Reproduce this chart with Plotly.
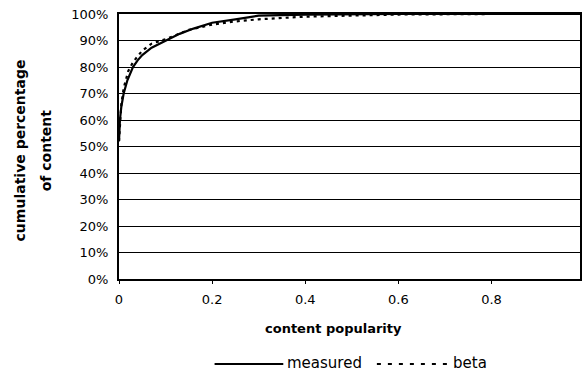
import plotly.graph_objects as go

# content popularity (x) and cumulative percentage of content (y)
measured_x = [0, 0.002, 0.005, 0.01, 0.018, 0.03, 0.04, 0.05, 0.07, 0.1, 0.13, 0.16, 0.2, 0.25, 0.3, 0.4, 0.5, 0.6, 0.8, 0.99]
measured_y = [0.52, 0.60, 0.65, 0.70, 0.75, 0.80, 0.825, 0.845, 0.873, 0.90, 0.925, 0.945, 0.967, 0.98, 0.994, 0.998, 1.0, 1.0, 1.0, 1.0]

beta_x = [0, 0.005, 0.01, 0.02, 0.03, 0.05, 0.07, 0.1, 0.15, 0.2, 0.25, 0.3, 0.4, 0.5, 0.6, 0.8, 0.99]
beta_y = [0.52, 0.66, 0.72, 0.785, 0.818, 0.862, 0.888, 0.905, 0.94, 0.96, 0.972, 0.98, 0.99, 0.995, 0.998, 1.0, 1.0]

y_ticks = [0, 0.1, 0.2, 0.3, 0.4, 0.5, 0.6, 0.7, 0.8, 0.9, 1.0]
y_tick_labels = ["0%", "10%", "20%", "30%", "40%", "50%", "60%", "70%", "80%", "90%", "100%"]
x_ticks = [0, 0.2, 0.4, 0.6, 0.8]
x_tick_labels = ["0", "0.2", "0.4", "0.6", "0.8"]

series_names = ["measured", "beta"]

FONT = "DejaVu Sans"
L, R, T, B = 119, 582, 14, 279


def px(x):
    return (x - L) / (R - L)


def py(y):
    return (B - y) / (B - T)


fig = go.Figure()
fig.add_trace(go.Scatter(x=measured_x, y=measured_y, mode="lines", name=series_names[0],
                         line=dict(color="black", width=2.2)))
fig.add_trace(go.Scatter(x=beta_x, y=beta_y, mode="lines", name=series_names[1],
                         line=dict(color="black", width=2.2, dash="3px,4px")))

fig.update_layout(
    width=584, height=375,
    margin=dict(l=L, r=584 - R, t=T, b=375 - B),
    paper_bgcolor="white", plot_bgcolor="white",
    font=dict(family=FONT, size=13, color="black"),
    showlegend=False,
    xaxis=dict(range=[0, 0.99], tickvals=x_ticks, ticktext=x_tick_labels,
               showgrid=False, zeroline=False, showline=True, linecolor="black",
               linewidth=2, mirror=True, ticks="outside", ticklen=3, tickcolor="black",
               ticklabelstandoff=4, tickfont=dict(size=13)),
    yaxis=dict(range=[0, 1.0], tickvals=y_ticks, ticktext=y_tick_labels,
               showgrid=True, gridcolor="black", gridwidth=1, zeroline=False,
               showline=True, linecolor="black", linewidth=2, mirror=True,
               ticks="", ticklabelstandoff=6, tickfont=dict(size=13)),
)

# axis titles
fig.add_annotation(text="<b>content popularity</b>", xref="paper", yref="paper",
                   x=px(334), y=py(328), xanchor="center", yanchor="middle",
                   showarrow=False, font=dict(family=FONT, size=13, color="black"))
fig.add_annotation(text="<b>cumulative percentage</b>", xref="paper", yref="paper",
                   x=px(20), y=py(150), xanchor="center", yanchor="middle", textangle=-90,
                   showarrow=False, font=dict(family=FONT, size=14, color="black"))
fig.add_annotation(text="<b>of content</b>", xref="paper", yref="paper",
                   x=px(46), y=py(150), xanchor="center", yanchor="middle", textangle=-90,
                   showarrow=False, font=dict(family=FONT, size=14, color="black"))

# legend (drawn manually to match the long legend keys)
LEG_Y = 364
fig.add_shape(type="line", xref="paper", yref="paper", x0=px(215), x1=px(284),
              y0=py(LEG_Y), y1=py(LEG_Y), line=dict(color="black", width=2.2))
fig.add_annotation(text=series_names[0], xref="paper", yref="paper", x=px(286), y=py(LEG_Y - 1),
                   xanchor="left", yanchor="middle", showarrow=False,
                   font=dict(family=FONT, size=15, color="black"))
fig.add_shape(type="line", xref="paper", yref="paper", x0=px(378), x1=px(450),
              y0=py(LEG_Y), y1=py(LEG_Y), line=dict(color="black", width=2.2, dash="4px,7px"))
fig.add_annotation(text=series_names[1], xref="paper", yref="paper", x=px(452), y=py(LEG_Y - 1),
                   xanchor="left", yanchor="middle", showarrow=False,
                   font=dict(family=FONT, size=15, color="black"))

fig.write_html("out.html")
